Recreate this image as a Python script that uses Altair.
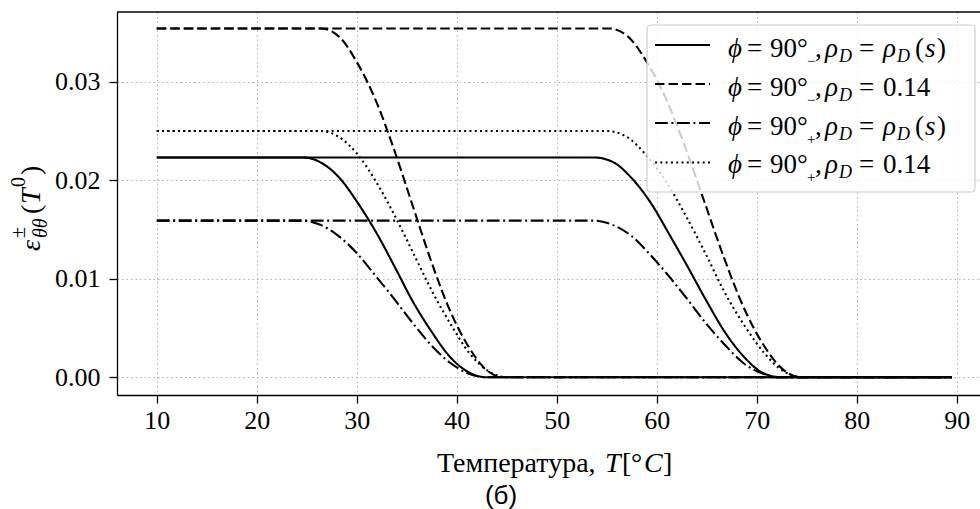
import altair as alt
import pandas as pd

# ---------------- data ----------------
solid_a_T = [10.0, 24.6, 26.4, 28.3, 30.1, 32.0, 33.8, 35.6, 37.5, 39.3, 41.2, 43.0, 89.5]
solid_b_T = [10.0, 53.8, 55.7, 57.5, 59.4, 61.2, 63.1, 65.0, 66.8, 68.7, 70.5, 72.4, 89.5]
solid_v = [0.0223, 0.0223, 0.0218, 0.0202, 0.0177, 0.0146, 0.0112, 0.0077, 0.0046, 0.0021, 0.0005, 0.0, 0.0]

dashed_a_T = [10.0, 26.4, 28.2, 30.0, 31.9, 33.7, 35.5, 37.3, 39.1, 41.0, 42.8, 44.6, 89.5]
dashed_b_T = [10.0, 55.2, 57.1, 59.0, 61.0, 62.9, 64.8, 66.7, 68.6, 70.6, 72.5, 74.4, 89.5]
dashed_v = [0.0354, 0.0354, 0.0346, 0.0320, 0.0281, 0.0232, 0.0177, 0.0122, 0.0073, 0.0034, 0.0009, 0.0, 0.0]

dashdot_a_T = [10.0, 24.4, 26.3, 28.1, 30.0, 31.8, 33.7, 35.6, 37.4, 39.3, 41.1, 43.0, 89.5]
dashdot_b_T = [10.0, 53.6, 55.5, 57.4, 59.2, 61.1, 63.0, 64.9, 66.8, 68.6, 70.5, 72.4, 89.5]
dashdot_v = [0.0159, 0.0159, 0.0155, 0.0144, 0.0126, 0.0104, 0.0080, 0.0055, 0.0033, 0.0015, 0.0004, 0.0, 0.0]

dotted_a_T = [10.0, 26.3, 28.2, 30.1, 31.9, 33.8, 35.7, 37.6, 39.5, 41.3, 43.2, 45.1, 89.5]
dotted_b_T = [10.0, 55.0, 57.0, 58.9, 60.9, 62.9, 64.9, 66.8, 68.8, 70.8, 72.7, 74.7, 89.5]
dotted_v = [0.0250, 0.0250, 0.0244, 0.0226, 0.0199, 0.0164, 0.0125, 0.0086, 0.0052, 0.0024, 0.0006, 0.0, 0.0]

x_ticks = [10, 20, 30, 40, 50, 60, 70, 80, 90]
y_ticks = [0.0, 0.01, 0.02, 0.03]

styles = ["solid", "dashed", "dashdot", "dotted"]

curves = [
    ("solid", "a", solid_a_T, solid_v), ("solid", "b", solid_b_T, solid_v),
    ("dashed", "a", dashed_a_T, dashed_v), ("dashed", "b", dashed_b_T, dashed_v),
    ("dashdot", "a", dashdot_a_T, dashdot_v), ("dashdot", "b", dashdot_b_T, dashdot_v),
    ("dotted", "a", dotted_a_T, dotted_v), ("dotted", "b", dotted_b_T, dotted_v),
]
rows = []
for st, g, Ts, Vs in curves:
    for t, v in zip(Ts, Vs):
        rows.append({"T": t, "eps": v, "style": st, "curve": st + g})
df = pd.DataFrame(rows)

# ---------------- layout ----------------
W, H = 863, 383
PL, PT = 117, 12
SERIF = "Liberation Serif"
FS = 26
LFS = 27
dash_range = [[1, 0], [9.5, 4], [12.8, 3.6, 2, 3.6], [2, 3.3]]
LW = 2.1

xscale = alt.Scale(domain=[6.025, 6.025 + W / 10.0], nice=False, zero=False)
yscale = alt.Scale(domain=[-0.0018, 0.03707], nice=False, zero=False)

common_axis = dict(
    labelFont=SERIF, labelFontSize=FS, labelColor="black",
    tickColor="black", tickSize=8, tickWidth=1.3,
    domainColor="black", domainWidth=1.3,
    grid=True, gridDash=[1.5, 3], gridColor="#b0b0b0", gridWidth=1,
    title=None,
)

lines = alt.Chart(df).mark_line(color="black", strokeWidth=LW, interpolate="monotone", clip=True).encode(
    x=alt.X("T:Q", scale=xscale, axis=alt.Axis(values=x_ticks, format="d", labelPadding=4, **common_axis)),
    y=alt.Y("eps:Q", scale=yscale, axis=alt.Axis(values=y_ticks, format=".2f", labelPadding=9, **common_axis)),
    strokeDash=alt.StrokeDash("style:N", scale=alt.Scale(domain=styles, range=dash_range), legend=None),
    detail="curve:N",
    order="T:Q",
)

one = pd.DataFrame({"k": [0]})


def ax(x):
    return x - PL


def ay(y):
    return y - PT


def txt(s, x, y, size=FS, italic=False, angle=0, font=SERIF, align="left"):
    kw = dict(font=font, fontSize=size, color="black", align=align, baseline="alphabetic", angle=angle)
    if italic:
        kw["fontStyle"] = "italic"
    return alt.Chart(one).mark_text(**kw).encode(x=alt.value(ax(x)), y=alt.value(ay(y)), text=alt.value(s))


top_spine = alt.Chart(one).mark_rule(color="black", strokeWidth=1.3).encode(
    x=alt.value(0), x2=alt.value(W), y=alt.value(0))

layers = [lines, top_spine]

# legend box
layers.append(alt.Chart(one).mark_rect(fill="white", fillOpacity=0.8, stroke="#cccccc", strokeWidth=1.2,
                                       cornerRadius=4).encode(
    x=alt.value(ax(647)), x2=alt.value(ax(975)), y=alt.value(ay(25)), y2=alt.value(ay(192))))

row_line_y = [45, 84, 123, 162.5]
row_base = [57, 96, 134.5, 173]
subs = ["\u2212", "\u2212", "+", "+"]
for i in range(4):
    layers.append(alt.Chart(one).mark_rule(color="black", strokeWidth=LW, strokeDash=dash_range[i]).encode(
        x=alt.value(ax(655)), x2=alt.value(ax(710)), y=alt.value(ay(row_line_y[i]))))
    b = row_base[i]
    layers += [
        txt("\u03d5", 728, b, size=LFS, italic=True),
        txt("=", 747, b, size=LFS),
        txt("90\u00b0", 770, b, size=LFS),
        txt(subs[i], 807, b + 9, size=15),
        txt(",", 815, b, size=LFS),
        txt("\u03c1", 825, b, size=LFS, italic=True),
        txt("D", 839, b + 5, size=18, italic=True),
        txt("=", 859, b, size=LFS),
    ]
    if i % 2 == 0:
        layers += [
            txt("\u03c1", 883, b, size=LFS, italic=True),
            txt("D", 897, b + 5, size=18, italic=True),
            txt("(", 915, b, size=LFS),
            txt("s", 925, b, size=LFS, italic=True),
            txt(")", 937, b, size=LFS),
        ]
    else:
        layers.append(txt("0.14", 883, b, size=LFS))

# x axis title
XT = 28
XB = 472
layers += [
    txt("Температура,", 437, XB, size=XT),
    txt("T", 605, XB, size=XT, italic=True),
    txt("[", 622, XB, size=XT),
    txt("\u00b0", 631, XB, size=XT),
    txt("C", 644, XB, size=XT, italic=True),
    txt("]", 663, XB, size=XT),
]
# caption
layers.append(txt("(б)", 501, 504, size=26, font="Liberation Sans", align="center"))

# y axis title (rotated)
YT = 28
layers += [
    txt("\u03b5", 40, 251, size=YT, italic=True, angle=270),
    txt("\u00b1", 25, 238, size=20, angle=270),
    txt("\u03b8\u03b8", 47, 238, size=20, italic=True, angle=270),
    txt("(", 40, 214, size=YT, angle=270),
    txt("T", 40, 204, size=YT, italic=True, angle=270),
    txt("0", 25, 187, size=20, angle=270),
    txt(")", 40, 175, size=YT, angle=270),
]

chart = alt.layer(*layers).properties(
    width=W, height=H,
    padding={"left": PL, "top": PT, "right": 0, "bottom": 509 - PT - H},
    autosize=alt.AutoSizeParams(type="none"),
).configure_view(stroke=None)

chart.save("out.html", embed_options={"renderer": "svg", "actions": False})
